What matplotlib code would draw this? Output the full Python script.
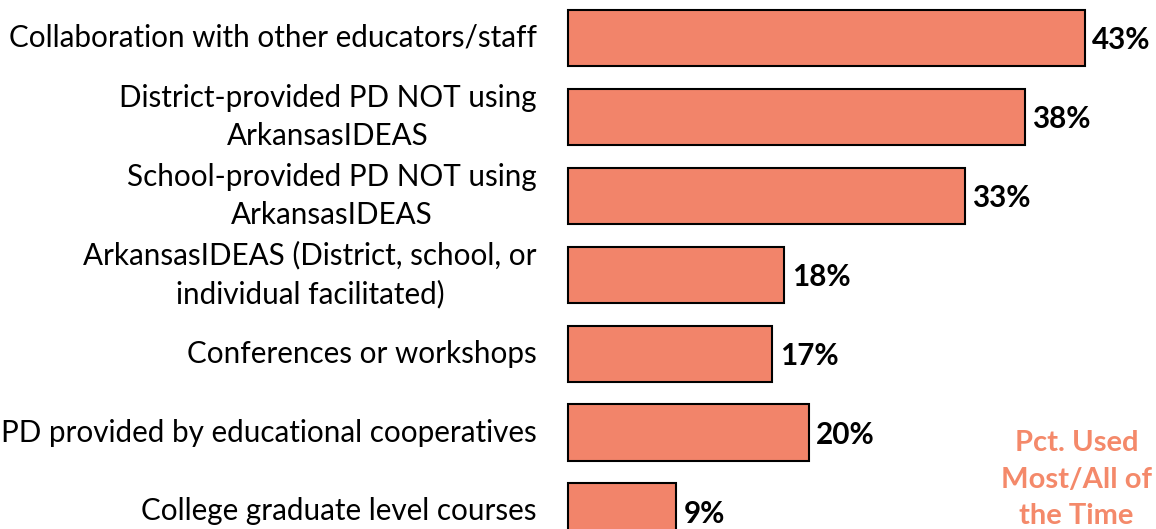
import matplotlib.pyplot as plt

categories = [
    "Collaboration with other educators/staff",
    "District-provided PD NOT using\nArkansasIDEAS",
    "School-provided PD NOT using\nArkansasIDEAS",
    "ArkansasIDEAS (District, school, or\nindividual facilitated)",
    "Conferences or workshops",
    "PD provided by educational cooperatives",
    "College graduate level courses",
]
values = [43, 38, 33, 18, 17, 20, 9]
value_labels = ["43%", "38%", "33%", "18%", "17%", "20%", "9%"]

BAR_COLOR = "#F2846A"
NOTE_COLOR = "#F4896A"
FONT = ["Lato", "DejaVu Sans"]

fig = plt.figure(figsize=(11.56, 5.29), dpi=100)
ax = fig.add_axes([0, 0, 1, 1])

ypos = list(range(len(categories)))
ax.barh(ypos, values, height=0.71, color=BAR_COLOR, edgecolor="black", linewidth=1.5)

for y, cat, v, lab in zip(ypos, categories, values, value_labels):
    ax.text(-2.6, y, cat, ha="right", va="center", multialignment="center",
            fontsize=21.3, family=FONT, linespacing=1.45)
    ax.text(v + 0.6, y + 0.03, lab, ha="left", va="center", fontsize=21.3,
            fontweight="bold", family=FONT)

ax.text(42.3, 5.6, "Pct. Used\nMost/All of\nthe Time", ha="center", va="center",
        fontsize=21, fontweight="bold", color=NOTE_COLOR, family=FONT,
        linespacing=1.5)

ax.set_xlim(-47.24, 48.9)
ax.set_ylim(6.223, -0.4816)
ax.axis("off")

fig.savefig("out.png", dpi=100)
